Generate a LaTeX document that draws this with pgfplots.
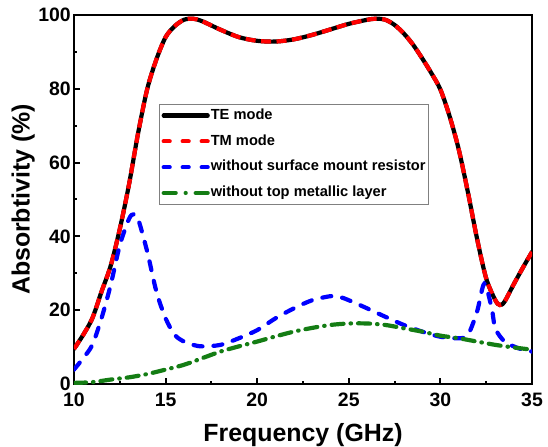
\documentclass[border=0pt]{standalone}
\usepackage{pgfplots}
\pgfplotsset{compat=1.18}
\usepackage{fontspec}
\setmainfont{Liberation Sans}
\definecolor{dgreen}{RGB}{20,125,20}
\begin{document}
\begin{tikzpicture}
\begin{axis}[
  scale only axis,
  width=458bp, height=369bp,
  xmin=10, xmax=35, ymin=0, ymax=100,
  xtick={10,15,...,35}, ytick={0,20,...,100},
  minor x tick num=1, minor y tick num=1,
  tick pos=left, tick align=inside,
  major tick length=6bp, minor tick length=3.5bp,
  every tick/.style={line width=2bp, black},
  axis line style={line width=2.5bp},
  /pgf/number format/assume math mode=true,
  ticklabel style={font=\bfseries\fontsize{19.5}{22}\selectfont},
  xticklabel style={inner sep=2bp, yshift=-7bp},
  yticklabel style={inner sep=2bp, xshift=-1bp},
  xlabel={Frequency (GHz)}, ylabel={Absorbtivity (\%)},
  every axis x label/.style={at={(axis description cs:0.5,-0.1545)}, anchor=base, font=\bfseries\fontsize{25}{28}\selectfont},
  every axis y label/.style={at={(axis description cs:-0.111,0.5)}, rotate=90, anchor=center, font=\bfseries\fontsize{25}{28}\selectfont},
  legend cell align=left,
  legend style={at={(0.186,0.759)}, anchor=north west, draw=gray, line width=0.8bp,
    font=\bfseries\fontsize{14.7}{16}\selectfont, row sep=7.3bp, inner sep=2bp,
    nodes={inner xsep=1bp, inner ysep=2bp, text height=11bp, text depth=3.5bp}},
  every axis plot/.append style={line width=4.2bp, smooth},
]
\addplot[black, line cap=round,
  legend image code/.code={\draw[black, line width=4.2bp, line cap=round] (2bp,0bp) -- (46bp,0bp);}] coordinates {
(10,9.5)(10.5,13.3)(11,17.8)(11.5,25)(12,32)(12.5,42)(13,54)(13.5,68)(14,80)(14.5,88)(15,94)(15.5,97)(16,98.7)(16.5,99)(17,98.3)(18,96)(19,94)(20,93)(21,92.8)(22,93.4)(23,94.6)(24,96.1)(25,97.6)(26,98.7)(26.5,99)(27,98.7)(27.5,97.3)(28,95)(28.5,92)(29,88.3)(29.5,84.3)(30,79.8)(30.5,72.6)(31,63.6)(31.5,52)(32,39.4)(32.5,28.6)(33,22.7)(33.25,21.4)(33.5,22.3)(34,27)(34.5,31.5)(35,35.8)};
\addlegendentry{TE mode}
\addplot[red, dash pattern=on 10bp off 5.5bp,
  legend image code/.code={\draw[red, line width=4.2bp, line cap=round, dash pattern=on 6bp off 13bp] (2bp,0bp) -- (46bp,0bp);}] coordinates {
(10,9.5)(10.5,13.3)(11,17.8)(11.5,25)(12,32)(12.5,42)(13,54)(13.5,68)(14,80)(14.5,88)(15,94)(15.5,97)(16,98.7)(16.5,99)(17,98.3)(18,96)(19,94)(20,93)(21,92.8)(22,93.4)(23,94.6)(24,96.1)(25,97.6)(26,98.7)(26.5,99)(27,98.7)(27.5,97.3)(28,95)(28.5,92)(29,88.3)(29.5,84.3)(30,79.8)(30.5,72.6)(31,63.6)(31.5,52)(32,39.4)(32.5,28.6)(33,22.7)(33.25,21.4)(33.5,22.3)(34,27)(34.5,31.5)(35,35.8)};
\addlegendentry{TM mode}
\addplot[blue, line cap=round, dash pattern=on 9bp off 11bp,
  legend image code/.code={\draw[blue, line width=4.2bp, line cap=round, dash pattern=on 6bp off 13bp] (2bp,0bp) -- (46bp,0bp);}] coordinates {
(10,3.9)(10.5,7)(11,10.6)(11.5,17.8)(12,26.8)(12.5,37.6)(13,44.7)(13.25,46)(13.5,44.7)(14,35.8)(14.5,25)(15,17.8)(15.5,13.3)(16,11.5)(16.5,10.6)(17,10.2)(18,10.6)(19,12.4)(20,14.6)(21,17.8)(22,20.5)(23,22.7)(24,23.8)(24.5,23.6)(25,22.7)(26,20.5)(27,18.2)(28,16)(29,14.2)(30,12.8)(31,12.4)(31.5,13.3)(32,19.6)(32.4,27.2)(32.8,20.5)(33,15)(33.5,11.5)(34,10.2)(34.5,9.3)(35,8.8)};
\addlegendentry{without surface mount resistor}
\addplot[dgreen, line cap=round, dash pattern=on 12bp off 7bp on 0.5bp off 7bp,
  legend image code/.code={\draw[dgreen, line width=4.2bp, line cap=round, dash pattern=on 12bp off 10bp on 0bp off 10bp] (2bp,0bp) -- (46bp,0bp);}] coordinates {
(10,0.3)(11,0.5)(12,1.2)(13,1.8)(14,2.7)(15,3.9)(16,5.2)(17,7)(18,8.8)(19,10.2)(20,11.5)(21,12.9)(22,14.2)(23,15.2)(24,16)(25,16.4)(26,16.4)(27,16)(28,15.1)(29,14.2)(30,13.1)(31,12.4)(32,11.5)(33,10.6)(34,9.9)(35,9.3)};
\addlegendentry{without top metallic layer}
\end{axis}
\pgfresetboundingbox
\path (-74bp,-63bp) rectangle (474bp,384bp);
\end{tikzpicture}
\end{document}
